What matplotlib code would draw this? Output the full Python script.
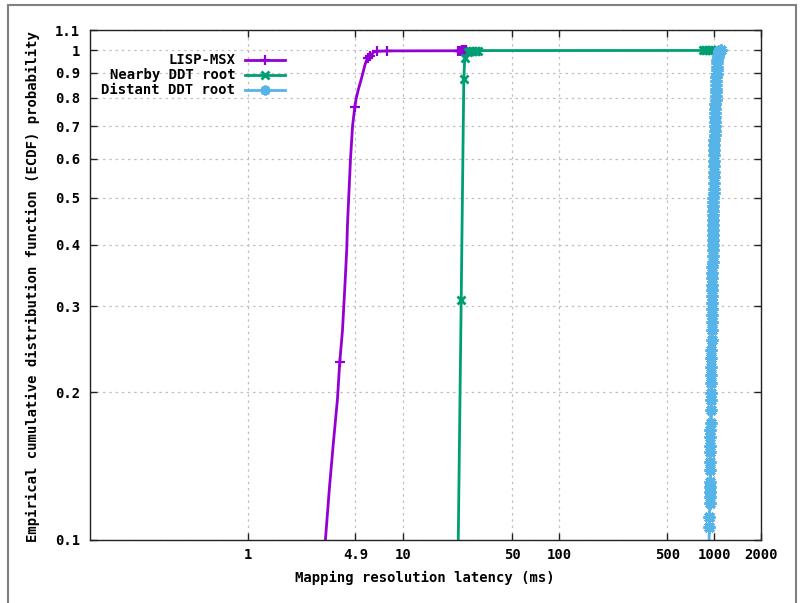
import numpy as np
import matplotlib.pyplot as plt
from matplotlib.patches import Rectangle
from matplotlib.ticker import FixedLocator, FixedFormatter, NullLocator

plt.rcParams['font.family'] = ['DejaVu Sans Mono']
plt.rcParams['font.weight'] = 'bold'

# ECDF samples (latency in ms, cumulative probability)
lisp_ms = [3.13, 3.34, 3.54, 3.76, 3.89, 4.05, 4.19, 4.31, 4.36, 4.44, 4.56, 4.70,
           4.86, 4.96, 5.11, 5.29, 5.47, 5.64, 5.84, 5.93, 6.13, 6.44, 6.77, 7.85,
           22.3, 22.8, 23.3, 23.8, 24.3, 24.8, 25.3]
lisp_p = [0.098, 0.128, 0.158, 0.194, 0.231, 0.268, 0.327, 0.39, 0.44, 0.50, 0.60, 0.70,
          0.766, 0.797, 0.829, 0.862, 0.896, 0.932, 0.962, 0.965, 0.974, 0.992, 0.995, 0.997,
          0.9975, 0.998, 0.9985, 0.999, 0.9994, 0.9997, 1.0]
lisp_marks = [4, 12, 19, 20, 22, 23, 24, 25, 26, 27, 28, 29, 30]

nearby_ms = [22.5, 23.52, 24.45, 24.81, 26.2, 26.8, 27.4, 28.0, 28.7, 29.4, 30.0,
             850, 870, 890, 910, 930, 950, 970]
nearby_p = [0.098, 0.309, 0.8755, 0.9646, 0.994, 0.995, 0.996, 0.997, 0.9975, 0.998, 0.9985,
            0.999, 0.9992, 0.9994, 0.9996, 0.9997, 0.9999, 1.0]
nearby_marks = list(range(1, len(nearby_ms)))

distant_ms = [925, 930, 932, 934, 935, 936, 937, 938, 940, 941, 942, 943, 945, 946, 947,
              949, 951, 952, 954, 955, 957, 958, 960, 962, 963,
              964, 966, 967, 968, 969, 970, 971, 972, 973, 974, 975, 976, 977, 978, 979,
              980, 981, 982, 983, 984, 985, 987, 988, 989, 990, 991,
              992, 994, 995, 997, 998, 1000, 1001, 1003, 1004, 1006, 1008, 1009, 1011,
              1013, 1015, 1017, 1019, 1021, 1023, 1025, 1027, 1029, 1031, 1033, 1035,
              1037, 1040, 1043, 1046,
              1052, 1058, 1066, 1080, 1098]
distant_p = [0.097, 0.1063, 0.1114, 0.119, 0.1224, 0.1253, 0.1283, 0.1313, 0.1389, 0.1443,
             0.1512, 0.1555, 0.1623, 0.1676, 0.1733, 0.1842, 0.1931, 0.1996, 0.2091, 0.2172,
             0.2256, 0.2353, 0.2443, 0.2557, 0.2683,
             0.278, 0.288, 0.296, 0.305, 0.314, 0.323, 0.332, 0.342, 0.351, 0.36, 0.37,
             0.38, 0.39, 0.40, 0.41, 0.42, 0.43, 0.44, 0.45, 0.46, 0.47, 0.48, 0.49, 0.50,
             0.51, 0.52,
             0.535, 0.55, 0.565, 0.58, 0.595, 0.61, 0.625, 0.64, 0.655, 0.67, 0.685, 0.70,
             0.715, 0.73, 0.745, 0.76, 0.775, 0.79, 0.805, 0.82, 0.835, 0.85, 0.865, 0.88,
             0.895, 0.91, 0.925, 0.94, 0.955,
             0.97, 0.98, 0.99, 0.995, 1.0]

x_ticks = [1, 4.9, 10, 50, 100, 500, 1000, 2000]
x_labels = ['1', '4.9', '10', '50', '100', '500', '1000', '2000']
y_ticks = [0.1, 0.2, 0.3, 0.4, 0.5, 0.6, 0.7, 0.8, 0.9, 1.0, 1.1]
y_labels = ['0.1', '0.2', '0.3', '0.4', '0.5', '0.6', '0.7', '0.8', '0.9', '1', '1.1']

series = [
    ('LISP-MSX', lisp_ms, lisp_p, lisp_marks, '#9400d3', '+', 7, 1.6),
    ('Nearby DDT root', nearby_ms, nearby_p, nearby_marks, '#009e73', 'x', 6, 2.0),
    ('Distant DDT root', distant_ms, distant_p, None, '#56b4e9', (8, 2, 0), 8.5, 2.2),
]

fig = plt.figure(figsize=(8.01, 6.03), dpi=100)
ax = fig.add_axes([90 / 801, 1 - 539.5 / 603, 671 / 801, 509.5 / 603])

for name, xs, ys, marks, col, mk, ms, mew in series:
    ax.plot(xs, ys, color=col, lw=2, marker=mk, markersize=ms, markeredgewidth=mew,
            markevery=marks)

ax.set_xscale('log')
ax.set_yscale('log')
ax.set_xlim(0.096, 2000)
ax.set_ylim(0.1, 1.1)

ax.xaxis.set_major_locator(FixedLocator(x_ticks))
ax.xaxis.set_major_formatter(FixedFormatter(x_labels))
ax.yaxis.set_major_locator(FixedLocator(y_ticks))
ax.yaxis.set_major_formatter(FixedFormatter(y_labels))
ax.xaxis.set_minor_locator(NullLocator())
ax.yaxis.set_minor_locator(NullLocator())
ax.tick_params(direction='in', top=True, right=True, length=5, width=1,
               labelsize=10, color='#222222')
ax.tick_params(axis='x', pad=6)
ax.tick_params(axis='y', pad=7)
ax.grid(True, ls=(0, (2, 3)), color='#c0c0c0', lw=0.9)
for s in ax.spines.values():
    s.set_linewidth(1)
    s.set_color('#222222')

# gnuplot style key: right aligned text, sample line with point
for i, (name, xs, ys, marks, col, mk, ms, mew) in enumerate(series):
    yk = 0.941 - i * 0.0295
    ax.text(0.2164, yk, name, transform=ax.transAxes, ha='right', va='center',
            fontsize=10, fontweight='bold')
    ax.plot([0.2313, 0.291], [yk, yk], transform=ax.transAxes, color=col, lw=2,
            clip_on=False)
    ax.plot([0.2612], [yk], transform=ax.transAxes, color=col, marker=mk,
            markersize=min(ms, 7), markeredgewidth=mew, clip_on=False)

fig.text(33 / 801, 1 - 287 / 603,
         'Empirical cumulative distribution function (ECDF) probability',
         rotation=90, ha='center', va='center', fontsize=10, fontweight='bold')
fig.text(425 / 801, 1 - 578 / 603, 'Mapping resolution latency (ms)',
         ha='center', va='center', fontsize=10, fontweight='bold')

frame = Rectangle((8 / 801, -0.1), 788 / 801, 1.1 - 5 / 603, transform=fig.transFigure,
                  fill=False, edgecolor='#808080', lw=1.5, clip_on=False)
fig.patches.append(frame)

fig.savefig('out.png', dpi=100)
